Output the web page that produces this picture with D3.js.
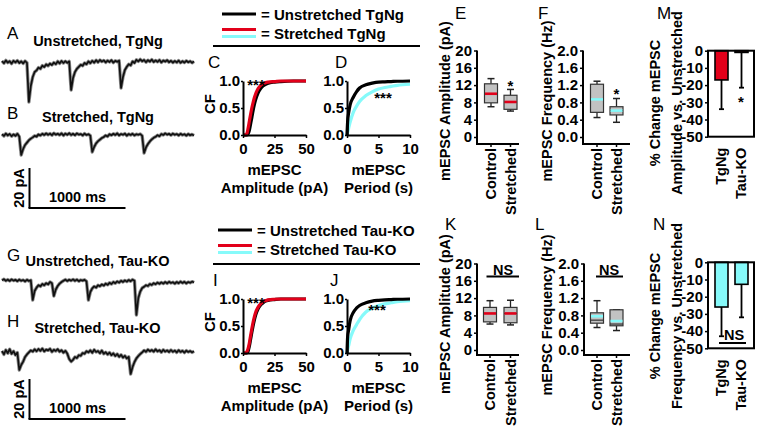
<!DOCTYPE html>
<html><head><meta charset="utf-8">
<script src="https://cdn.jsdelivr.net/npm/d3@7"></script>
<style>body{margin:0;background:#fff;}</style>
</head><body>
<svg id="fig" width="757" height="426" xmlns="http://www.w3.org/2000/svg"></svg>
<script>
// ================= DATA =================
const traceSampleMs = 20;
// Example traces (pA relative to baseline), one sample every 20 ms, 0..2000 ms
const traceA = [0.5,-0.6,0.8,-0.3,0.4,-0.8,0.6,-0.2,0.7,-0.5,0.3,-0.7,0.5,-0.4,
 -20,-12,-7.5,-5,-4.2,-2.8,-3.4,-1.8,-2.5,-1.2,-1.9,-0.8,-1.5,-0.3,-1.1,0.3,-0.7,0.5,-0.5,0.4,-0.4,0.3,
 -14,-8,-5,-3.4,-2.4,-1.4,-1.9,-0.5,-1.1,0.3,-0.6,0.6,-0.3,0.9,-0.1,1.0,0.2,0.8,-0.2,0.7,0.0,0.9,-0.3,0.6,0.1,0.7,
 -13,-7.5,-4,-2.4,-1.1,-1.7,0.3,-0.5,1.1,0.3,1.3,0.4,1.0,-0.1,0.9,0.2,1.2,0.0,0.8,0.1,
 1.0,-0.2,0.7,0.2,0.9,-0.1,0.6,-0.3,0.5,-0.2,0.7,-0.4,0.4,-0.3,0.6,-0.1,0.4,-0.4,0.3];
const traceB = [0.4,-0.5,0.7,-0.2,0.5,-0.6,0.3,-0.4,0.6,-0.8,
 -10,-7,-5,-3.8,-2.6,-1.8,-1.2,-0.4,-0.8,0.3,-0.2,0.6,0.0,0.8,0.1,0.7,-0.1,0.9,0.2,0.6,
 0.0,0.8,-0.2,0.7,0.1,0.9,0.0,0.6,-0.1,0.8,0.2,0.5,-0.2,0.7,0.0,0.4,-0.3,
 -8.5,-6,-4.2,-3.1,-2.3,-1.5,-1.0,-0.2,-0.7,0.4,-0.1,0.6,0.0,0.8,-0.2,0.5,0.1,0.7,-0.3,0.5,0.0,0.6,-0.2,0.4,0.1,0.5,-0.4,
 -9,-6.2,-4.5,-3.2,-2.2,-1.4,-0.9,-0.1,-0.6,0.5,0.0,0.8,0.2,0.6,-0.1,0.7,0.1,0.5,-0.2,0.6,0.0,0.4,-0.3,0.5,-0.1,0.3,-0.2];
const traceG = [0.8,1.4,0.6,1.2,0.5,1.3,0.7,1.1,0.4,1.2,0.6,1.0,0.3,1.1,0.5,0.9,
 -9,-4.5,-2.8,-1.6,-2.2,-1.0,-1.6,-0.6,-1.2,0.0,-0.6,
 -7,-3.8,-2,-0.8,0.0,0.6,1.2,0.5,1.1,0.7,1.3,0.6,1.2,0.4,1.0,0.7,1.1,0.3,
 -9,-5,-3.2,-2.2,-2.8,-1.6,-2.1,-1.2,-1.8,-0.8,-1.4,-0.4,-1.0,0.0,-0.6,0.3,-0.3,0.6,0.0,0.8,0.2,1.0,0.4,1.2,0.6,
 -16.5,-8,-4.8,-3,-2.4,-1.6,-2.0,-1.0,-1.5,-0.6,-1.1,-0.3,-0.9,-0.2,-0.8,0.0,-0.7,0.1,-0.5,-0.1,
 -0.8,0.0,-0.6,0.2,-0.5,0.1,-0.7,0.0,-0.4,0.2,-0.3];
const traceH = [0.5,-1.2,1.0,-0.6,1.4,-0.9,0.4,-1.5,-0.3,
 -9,-6.5,-4.8,-2.5,-1.2,-0.2,0.8,0.2,1.3,0.4,1.5,0.6,1.7,0.3,1.2,0.8,1.6,0.1,1.1,0.5,1.4,0.2,0.9,-0.3,0.6,-0.8,
 -3.5,-4.8,-3.9,-2.5,-3.0,-1.6,-1.9,-0.5,-0.9,0.4,-0.2,0.8,-0.4,1.1,0.0,0.5,-0.6,0.7,-0.9,-0.1,
 -1.2,-0.3,-1.6,-0.7,-2.0,-1.0,-2.4,-1.4,-2.8,-1.9,-3.2,-2.4,
 -11,-7.5,-5,-3.2,-2.0,-1.0,-0.2,0.8,0.1,1.2,0.4,1.0,0.2,1.3,0.3,0.9,-0.1,1.1,0.2,0.8,
 0.0,1.0,0.1,0.7,-0.2,0.9,0.0,0.6,-0.3,0.7,0.0,0.5,-0.2,0.4];
const scaleBarPA = 20, scaleBarMs = 1000;

// Cumulative fractions
const ampX = [0,2,3,4,5,6,7,8,9,10,12,14,16,18,20,25,30,40,50];
const cfAmpTgUn = [0,0,0,0.02,0.08,0.2,0.32,0.45,0.56,0.65,0.78,0.86,0.91,0.94,0.96,0.98,0.99,1,1];
const cfAmpTgSt = [0,0,0.02,0.12,0.25,0.38,0.5,0.6,0.69,0.76,0.86,0.92,0.95,0.97,0.98,0.99,1,1,1];
const cfAmpKoUn = [0,0,0,0.03,0.12,0.25,0.38,0.5,0.61,0.7,0.82,0.89,0.93,0.96,0.975,0.99,1,1,1];
const cfAmpKoSt = [0,0,0.02,0.08,0.18,0.32,0.45,0.57,0.67,0.75,0.85,0.91,0.95,0.97,0.985,0.995,1,1,1];
const perX = [0,0.1,0.25,0.5,1,1.5,2,3,4,5,6,7,8,10];
const cfPerTgUn = [0,0.25,0.4,0.56,0.7,0.8,0.87,0.93,0.96,0.98,0.985,0.99,0.995,1.0];
const cfPerTgSt = [0,0.05,0.12,0.24,0.42,0.53,0.62,0.73,0.8,0.85,0.88,0.9,0.92,0.94];
const cfPerKoUn = [0,0.3,0.42,0.6,0.75,0.83,0.88,0.93,0.96,0.975,0.985,0.99,0.995,1.0];
const cfPerKoSt = [0,0.06,0.13,0.26,0.42,0.52,0.62,0.76,0.83,0.88,0.91,0.93,0.95,0.97];
const ampTicks = [0,25,50], perTicks = [0,5,10], cfTicks = [0,0.5,1];

// Box plots: [low whisker, Q1, median, Q3, high whisker]
const boxCats = ['Control','Stretched'];
const ampBoxTg = [[7.0,7.9,10.0,12.3,13.5],[6.0,6.4,8.1,9.65,11.0]];
const ampMeanTg = [10.0,8.1];
const freqBoxTg = [[0.45,0.57,0.87,1.22,1.29],[0.34,0.51,0.61,0.70,0.89]];
const freqMeanTg = [0.87,0.61];
const ampBoxKo = [[6.0,6.5,8.45,9.85,11.4],[5.8,6.3,8.45,9.85,11.5]];
const ampMeanKo = [8.45,8.45];
const freqBoxKo = [[0.52,0.62,0.69,0.86,1.14],[0.45,0.56,0.6,0.93,0.93]];
const freqMeanKo = [0.78,0.67];
const ampBoxTicks = [0,4,8,12,16,20];
const freqBoxTicks = [0,0.4,0.8,1.2,1.6,2.0];

// % change bars
const barCats = ['TgNg','Tau-KO'];
const pctAmp = [-17,-1], pctAmpErr = [17,20.5];
const pctFreq = [-26,-12.8], pctFreqErr = [17,19.2];
const pctTicks = [0,-10,-20,-30,-40,-50];

// ================= DRAWING =================
const FONT = '"Liberation Sans", Arial, Helvetica, sans-serif';
const RED = '#e2001a', CYAN = '#86fafa', BOXFILL = '#c2c2c2';
const svg = d3.select('#fig');

function T(x,y,s,o={}){
  const t = svg.append('text').attr('x',x).attr('y',y).text(s)
    .attr('font-family',FONT).attr('font-size',o.size||14.5)
    .attr('font-weight',o.weight||'bold').attr('text-anchor',o.anchor||'middle').attr('fill','#000');
  if(!o.base) t.attr('dominant-baseline','central');
  if(o.rot) t.attr('transform',`rotate(${o.rot},${x},${y})`);
  return t;
}
function Ln(x1,y1,x2,y2,w=2,c='#000'){
  svg.append('line').attr('x1',x1).attr('y1',y1).attr('x2',x2).attr('y2',y2)
    .attr('stroke',c).attr('stroke-width',w);
}
function styleAxis(g,fs=15){
  g.attr('font-family',FONT).attr('font-size',fs).attr('font-weight','bold');
  g.select('.domain').attr('stroke-width',2);
  g.selectAll('.tick line').attr('stroke-width',1.5);
  g.selectAll('.tick text').attr('fill','#000');
}

// ---- traces ----
const tScale = d3.scaleLinear().domain([0,2000]).range([2,194]);
function trace(vals, base){
  const y = d3.scaleLinear().domain([0,-20]).range([base, base+40]);
  const line = d3.line().x((d,i)=>tScale(i*traceSampleMs)).y(d=>y(d));
  svg.append('path').datum(vals).attr('d', line)
    .attr('fill','none').attr('stroke','#8a8a8a').attr('stroke-width',3.4).attr('stroke-linejoin','round');
  svg.append('path').datum(vals).attr('d', line)
    .attr('fill','none').attr('stroke','#111').attr('stroke-width',1.7).attr('stroke-linejoin','round');
}
function scaleBar(x0, yBottom){
  const y = d3.scaleLinear().domain([0,scaleBarPA]).range([yBottom, yBottom-40]);
  const w = tScale(scaleBarMs)-tScale(0);
  Ln(x0, y(scaleBarPA), x0, y(0), 2);
  Ln(x0-1, y(0), x0+w, y(0), 2);
  T(x0-11, (y(0)+y(scaleBarPA))/2, '20 pA', {rot:-90, size:14.5});
  T(x0+48, y(0)-11, '1000 ms', {size:14.5});
}
T(7,33,'A',{weight:'normal',size:17,anchor:'start'});
T(98,41,'Unstretched, TgNg');
trace(traceA, 62);
T(7,113,'B',{weight:'normal',size:17,anchor:'start'});
T(98,117,'Stretched, TgNg');
trace(traceB, 135);
scaleBar(29.5, 208);

T(7,255,'G',{weight:'normal',size:17,anchor:'start'});
T(97.5,261,'Unstretched, Tau-KO');
trace(traceG, 282);
T(7,321,'H',{weight:'normal',size:17,anchor:'start'});
T(97.5,328,'Stretched, Tau-KO');
trace(traceH, 352);
scaleBar(29.5, 419);

// ---- legends ----
function legend(y1, y2, xl, lab1, lab2){
  Ln(xl, y1, xl+34, y1, 3, '#000');
  T(xl+39, y1, lab1, {anchor:'start', size:15});
  Ln(xl, y2-3.5, xl+34, y2-3.5, 3, RED);
  Ln(xl, y2+3.5, xl+34, y2+3.5, 3, CYAN);
  T(xl+39, y2, lab2, {anchor:'start', size:15});
}
legend(14, 33, 222, '= Unstretched TgNg', '= Stretched TgNg');
Ln(213, 46, 420, 46, 2);
legend(230, 249, 218, '= Unstretched Tau-KO', '= Stretched Tau-KO');
Ln(213, 264, 420, 264, 2);

// ---- CDF panels ----
function cdfPanel(o){
  const x = d3.scaleLinear().domain(o.xDomain).range([o.x0,o.x1]);
  const y = d3.scaleLinear().domain([0,1]).range([o.yBot,o.yTop]);
  const line = d3.line().curve(d3.curveMonotoneX).x(d=>x(d[0])).y(d=>y(d[1]));
  o.series.forEach(s=>{
    svg.append('path').datum(s.x.map((v,i)=>[v,s.y[i]])).attr('d',line)
      .attr('fill','none').attr('stroke',s.color).attr('stroke-width',3.2).attr('stroke-linejoin','round');
  });
  const gx = svg.append('g').attr('transform',`translate(0,${o.yBot})`)
    .call(d3.axisBottom(x).tickValues(o.xTicks).tickSize(3).tickSizeOuter(0).tickPadding(5));
  styleAxis(gx);
  const gy = svg.append('g').attr('transform',`translate(${o.x0},0)`)
    .call(d3.axisLeft(y).tickValues(cfTicks).tickFormat(d3.format('.1f')).tickSize(2).tickSizeOuter(0).tickPadding(1));
  styleAxis(gy);
  const cx = (o.x0+o.x1)/2;
  T(cx, o.yBot+34, 'mEPSC', {size:15});
  T(cx, o.yBot+52, o.xlab, {size:15});
  T(o.letterX, o.yTop-19, o.letter, {weight:'normal', size:17, anchor:'start'});
  if(o.cf) T(o.x0-34, (o.yTop+o.yBot)/2-4, 'CF', {rot:-90, size:15});
  T(o.starX, y(o.starY)+8.5, '***', {base:true, size:15});
}
cdfPanel({x0:243,x1:306,yTop:81,yBot:135,xDomain:[0,50],xTicks:ampTicks,xlab:'Amplitude (pA)',
  series:[{x:ampX,y:cfAmpTgUn,color:'#000'},{x:ampX,y:cfAmpTgSt,color:RED}],
  letter:'C',letterX:208,cf:true,starX:256,starY:1.0});
cdfPanel({x0:347,x1:410,yTop:81,yBot:135,xDomain:[0,10],xTicks:perTicks,xlab:'Period (s)',
  series:[{x:perX,y:cfPerTgSt,color:CYAN},{x:perX,y:cfPerTgUn,color:'#000'}],
  letter:'D',letterX:335,cf:false,starX:383,starY:0.75});
cdfPanel({x0:243,x1:306,yTop:299,yBot:353,xDomain:[0,50],xTicks:ampTicks,xlab:'Amplitude (pA)',
  series:[{x:ampX,y:cfAmpKoUn,color:'#000'},{x:ampX,y:cfAmpKoSt,color:RED}],
  letter:'I',letterX:213,cf:true,starX:256,starY:1.0});
cdfPanel({x0:347,x1:410,yTop:299,yBot:353,xDomain:[0,10],xTicks:perTicks,xlab:'Period (s)',
  series:[{x:perX,y:cfPerKoSt,color:CYAN},{x:perX,y:cfPerKoUn,color:'#000'}],
  letter:'J',letterX:330,cf:false,starX:377,starY:0.87});

// ---- box panels ----
function boxPanel(o){
  const y = d3.scaleLinear().domain([0,o.max]).range([o.yZero,o.yTop]);
  const x = d3.scalePoint().domain(boxCats).range(o.centers);
  const gy = svg.append('g').attr('transform',`translate(${o.axX},0)`)
    .call(d3.axisLeft(y).tickValues(o.ticks).tickFormat(o.fmt).tickSize(3).tickSizeOuter(0).tickPadding(2));
  styleAxis(gy);
  gy.select('.domain').remove();
  Ln(o.axX, o.yTop, o.axX, o.axisBottom+1, 2);
  Ln(o.axX-1, o.axisBottom, o.xEnd, o.axisBottom, 2);
  boxCats.forEach((c,i)=>{
    const s = o.stats[i], cx = x(c), hw = 6.5, cw = 3.5;
    Ln(cx, y(s[3]), cx, y(s[4]), 1.3, '#222');
    Ln(cx-cw, y(s[4]), cx+cw, y(s[4]), 1.5, '#222');
    Ln(cx, y(s[1]), cx, y(s[0]), 1.3, '#222');
    Ln(cx-cw, y(s[0]), cx+cw, y(s[0]), 1.5, '#222');
    svg.append('rect').attr('x',cx-hw).attr('y',y(s[3])).attr('width',2*hw).attr('height',y(s[1])-y(s[3]))
      .attr('fill',BOXFILL).attr('stroke','#333').attr('stroke-width',1.2);
    Ln(cx-hw, y(s[2]), cx+hw, y(s[2]), 1.2, '#333');
    Ln(cx-hw+0.5, y(o.means[i]), cx+hw-0.5, y(o.means[i]), 2.6, o.color);
    Ln(cx, o.axisBottom, cx, o.axisBottom+3, 1.5);
    T(cx, o.axisBottom+4, c, {rot:-90, anchor:'end', size:14.5});
  });
  T(o.ylabX, o.ylabY, o.ylab, {rot:-90, size:14.5});
  T(o.letterX, o.letterY, o.letter, {weight:'normal', size:17, anchor:'start'});
  if(o.star) T(o.star[0], o.star[1]+8.5, '*', {base:true, size:15});
  if(o.ns){ T(o.ns[0], o.ns[1], 'NS', {size:14.5}); Ln(o.ns[2], o.ns[1]+7, o.ns[3], o.ns[1]+7, 2); }
}
const fmtInt = d=>String(d), fmt1 = d3.format('.1f');
boxPanel({axX:477,xEnd:519,yTop:50.5,yZero:137,axisBottom:144,max:20,ticks:ampBoxTicks,fmt:fmtInt,
  centers:[491,510.5],stats:ampBoxTg,means:ampMeanTg,color:RED,
  ylab:'mEPSC Amplitude (pA)',ylabX:445,ylabY:101,letter:'E',letterX:455,letterY:13,star:[510.5,82]});
boxPanel({axX:583,xEnd:630,yTop:50.5,yZero:137,axisBottom:144,max:2,ticks:freqBoxTicks,fmt:fmt1,
  centers:[597,616.5],stats:freqBoxTg,means:freqMeanTg,color:CYAN,
  ylab:'mEPSC Frequency (Hz)',ylabX:547,ylabY:101,letter:'F',letterX:538,letterY:13,star:[616.5,90]});
boxPanel({axX:477,xEnd:519,yTop:263.5,yZero:350,axisBottom:355,max:20,ticks:ampBoxTicks,fmt:fmtInt,
  centers:[490,510.5],stats:ampBoxKo,means:ampMeanKo,color:RED,
  ylab:'mEPSC Amplitude (pA)',ylabX:445,ylabY:314,letter:'K',letterX:445,letterY:224,ns:[503,269.5,486.5,519]});
boxPanel({axX:584,xEnd:630,yTop:263.5,yZero:350,axisBottom:355,max:2,ticks:freqBoxTicks,fmt:fmt1,
  centers:[597,616.5],stats:freqBoxKo,means:freqMeanKo,color:CYAN,
  ylab:'mEPSC Frequency (Hz)',ylabX:547,ylabY:315,letter:'L',letterX:535,letterY:224,ns:[609,269.5,596,623]});

// ---- % change bar panels ----
function barPanel(o){
  const y = d3.scaleLinear().domain([-50,0]).range([o.yBot,o.yTop]);
  const x = d3.scaleBand().domain(barCats).range([715,748]).paddingInner(0.35);
  barCats.forEach((c,i)=>{
    const cx = x(c)+x.bandwidth()/2;
    svg.append('rect').attr('x',x(c)).attr('y',y(0)).attr('width',x.bandwidth()).attr('height',y(o.vals[i])-y(0))
      .attr('fill',o.color).attr('stroke','#000').attr('stroke-width',1.6);
    const ye = y(o.vals[i]-o.err[i]);
    Ln(cx, y(o.vals[i]), cx, ye, 1.8);
    Ln(cx-2.5, ye, cx+2.5, ye, 1.8);
    T(cx, o.yBot+11, c, {rot:-90, anchor:'end', size:14.5});
  });
  svg.append('rect').attr('x',708).attr('y',y(0)).attr('width',46).attr('height',y(-50)-y(0))
    .attr('fill','none').attr('stroke','#000').attr('stroke-width',2);
  const gy = svg.append('g').attr('transform','translate(708,0)')
    .call(d3.axisLeft(y).tickValues(pctTicks).tickFormat(d=>String(d)).tickSize(3).tickSizeOuter(0).tickPadding(2));
  styleAxis(gy);
  gy.select('.domain').remove();
  T(655, o.labY, '% Change mEPSC', {rot:-90, size:14.5});
  T(677, o.labY, o.lab2, {rot:-90, size:14.5});
  T(o.letterX, o.letterY, o.letter, {weight:'normal', size:17, anchor:'start'});
}
barPanel({yTop:50.7,yBot:136.7,vals:pctAmp,err:pctAmpErr,color:RED,lab2:'Amplitude vs. Unstretched',labY:103,
  letter:'M',letterX:657,letterY:13});
T(741, 98+8.5, '*', {base:true, size:15});
barPanel({yTop:262.3,yBot:348.3,vals:pctFreq,err:pctFreqErr,color:CYAN,lab2:'Frequency vs. Unstretched',labY:316,
  letter:'N',letterX:653,letterY:224});
T(734, 335, 'NS', {size:14.5});
Ln(719, 343, 746, 343, 2);
</script>
</body></html>
